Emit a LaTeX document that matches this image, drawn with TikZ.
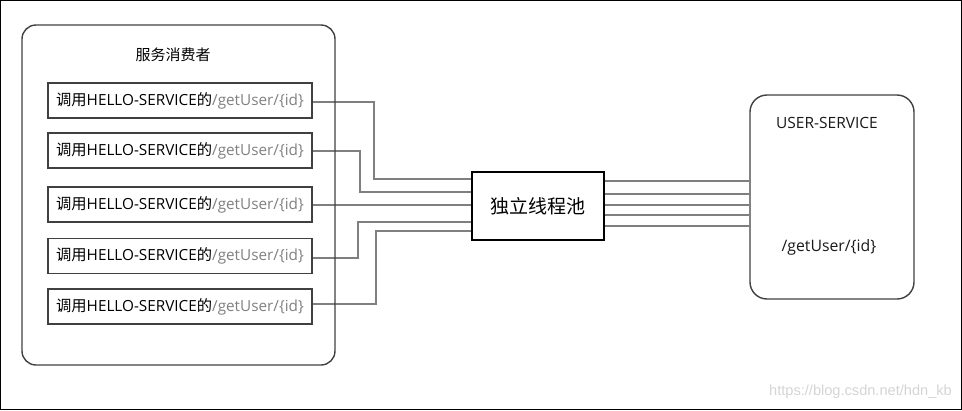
\documentclass[tikz,border=0pt]{standalone}
\usepackage{fontspec}
\setmainfont{Open Sans}
\newfontfamily\cjk{Noto Sans CJK SC}
\newfontfamily\wmfont{Liberation Sans}
\definecolor{linegray}{HTML}{7F7F7F}
\definecolor{boxline}{HTML}{404040}
\definecolor{pathgray}{HTML}{808080}
\definecolor{wmgray}{HTML}{D4D4D4}
\begin{document}
\begin{tikzpicture}[x=1pt,y=-1pt,
  callbox/.style={draw=boxline, line width=1.8pt, minimum width=264pt, minimum height=35pt, inner sep=0pt, font=\fontsize{15.3}{18}\selectfont},
  conn/.style={draw=linegray, line width=2pt},
  bigbox/.style={draw=boxline, line width=1.4pt, rounded corners=14pt, inner sep=0pt},
]
\useasboundingbox (0,0) rectangle (962,410);
\draw[black, line width=1.2pt] (0.6,0.6) rectangle (961.4,409.4);

\newcommand{\calltext}{{\cjk 调用}HELLO-SERVICE{\cjk 的}\textcolor{pathgray}{/getUser/\{id\}}}

% threads pool
\node[draw=black, line width=1.4pt, minimum width=132pt, minimum height=68pt, inner sep=0pt, font=\cjk\fontsize{19}{21}\selectfont] (pool) at (538,206) {独立线程池};

% call boxes
\node[callbox] (b1) at (180,100.5) {\calltext};
\node[callbox] (b2) at (180,150.5) {\calltext};
\node[callbox] (b3) at (180,204.5) {\calltext};
\node[callbox] (b4) at (180,256) {\calltext};
\node[callbox] (b5) at (180,306.5) {\calltext};

% connectors to pool
\coordinate (q1) at ([yshift=27pt]pool.west);
\coordinate (q2) at ([yshift=14pt]pool.west);
\coordinate (q3) at ([yshift=2pt]pool.west);
\coordinate (q4) at ([yshift=-16pt]pool.west);
\coordinate (q5) at ([yshift=-25pt]pool.west);
\draw[conn] ([yshift=-1.5pt]b1.east) -| (374,179) -- (q1);
\draw[conn] (b2.east) -| (360,192) -- (q2);
\draw[conn] (b3.east) -- (b3.east -| pool.west);
\draw[conn] ([yshift=-2pt]b4.east) -| (358,222) -- (q4);
\draw[conn] ([yshift=2.5pt]b5.east) -| (376,231) -- (q5);

% consumer container
\node[bigbox, minimum width=313pt, minimum height=340pt] (consumer) at (178.5,195) {};
\node[font=\cjk\fontsize{15}{17}\selectfont] (ctitle) at (173,55) {服务消费者};

% user service
\node[bigbox, rounded corners=17pt, minimum width=164pt, minimum height=204pt] (us) at (832,197) {};
\node[font=\fontsize{15.5}{18}\selectfont, text=black!90] (ustitle) at (827,123) {USER-SERVICE};
\node[font=\fontsize{15.8}{18}\selectfont, text=black!90] (uspath) at (829,247) {/getUser/\{id\}};

% connectors pool -> user service
\foreach \i/\s in {1/25,2/12,3/1,4/-9,5/-20}{
  \coordinate (p\i) at ([yshift=\s pt]pool.east);
  \draw[conn] (p\i) -- (p\i -| us.west);
}

% watermark
\node[font=\wmfont\fontsize{14.6}{16}\selectfont, text=wmgray, anchor=east, inner sep=0pt] (wm) at (952,392) {https://blog.csdn.net/hdn\_kb};
\end{tikzpicture}
\end{document}
